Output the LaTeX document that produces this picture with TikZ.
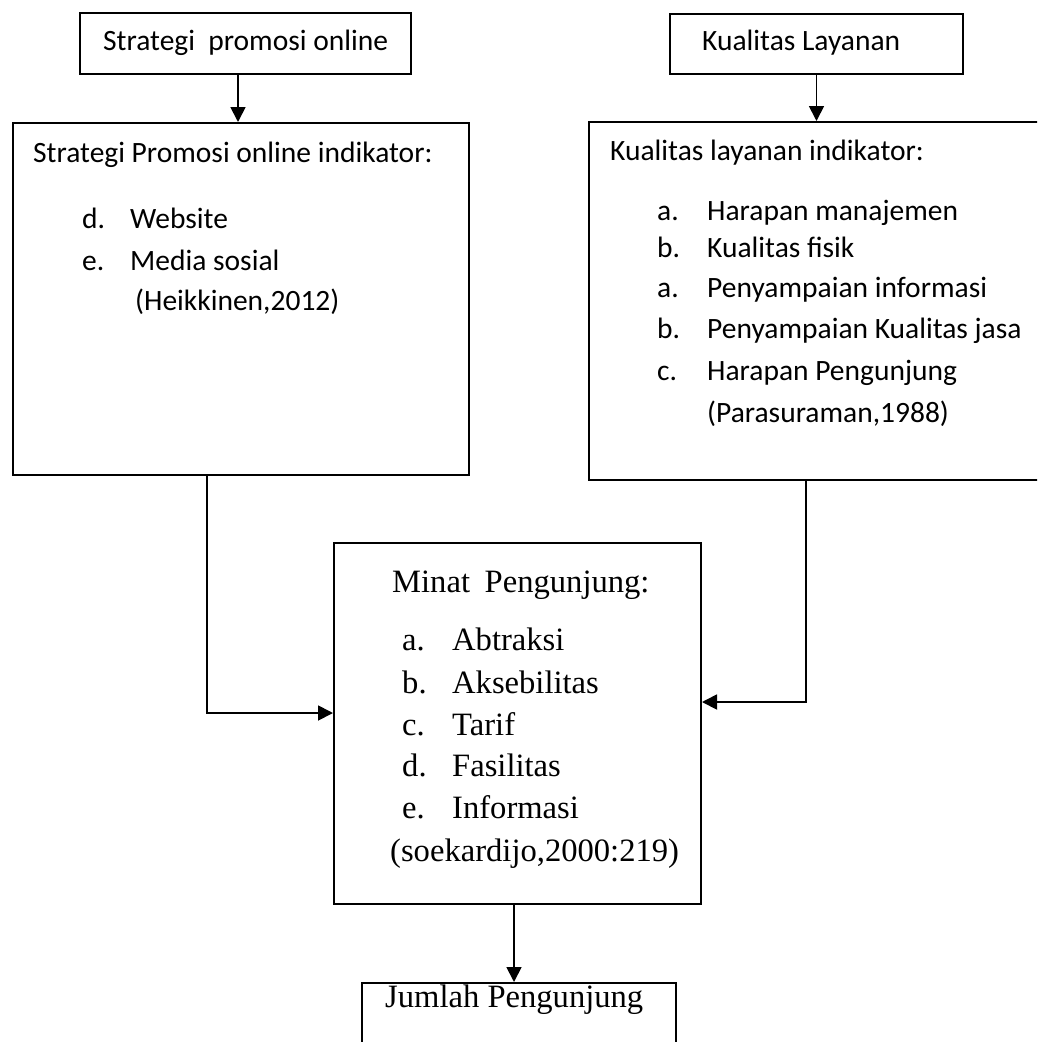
\documentclass[tikz,border=0pt]{standalone}
\usepackage{fontspec}
\setmainfont{Liberation Serif}
\newfontfamily\calib{Carlito}
\usetikzlibrary{arrows.meta}
\begin{document}
\begin{tikzpicture}[x=1pt,y=1pt,
  box/.style={draw,line width=2pt,anchor=north west,inner sep=0pt},
  arr/.style={line width=1.8pt,-{Triangle[length=15pt,width=15pt]}},
  ct/.style={font=\calib\fontsize{29.5}{35}\selectfont,anchor=base west,inner sep=0pt},
  tt/.style={font=\fontsize{32.6}{39}\selectfont,anchor=base west,inner sep=0pt}]
\useasboundingbox (0,0) rectangle (1037,-1042);
\clip (0,0) rectangle (1037,-1042);
% boxes
\node[box,minimum width=331pt,minimum height=61pt] (tl) at (79,-12) {};
\node[box,minimum width=293pt,minimum height=60pt] (tr) at (669,-13) {};
\node[box,minimum width=456pt,minimum height=352pt] (lb) at (12,-122) {};
\node[box,minimum width=462pt,minimum height=358pt] (rb) at (588,-121) {};
\node[box,minimum width=367pt,minimum height=361pt] (mb) at (333,-542) {};
\node[box,minimum width=314pt,minimum height=78pt] (jb) at (361,-982) {};
% connectors
\coordinate (c1) at (238,0);
\draw[arr] (tl.south -| c1) -- (lb.north -| c1);
\draw[arr] (tr.south) -- (tr.south |- rb.north);
\coordinate (c2) at (207,-713);
\draw[arr] (lb.south -| c2) -- (c2) -- (c2 -| mb.west);
\coordinate (c3) at (806,-702);
\draw[arr] (rb.south -| c3) -- (c3) -- (c3 -| mb.east);
\coordinate (c4) at (514,0);
\draw[arr] (mb.south -| c4) -- (jb.north -| c4);
% top texts
\node[ct] (t1) at (103,-50) {Strategi\hspace{0.45em}promosi online};
\node[ct] (t2) at (702,-50) {Kualitas Layanan};
% left box texts
\node[ct] (l0) at (33,-162) {Strategi Promosi online indikator:};
\node[ct] (l1a) at (82,-228) {d.};
\node[ct] (l1b) at (130,-228) {Website};
\node[ct] (l2a) at (82,-270) {e.};
\node[ct] (l2b) at (130,-270) {Media sosial};
\node[ct] (l3) at (135,-310) {(Heikkinen,2012)};
% right box texts
\node[ct] (r0) at (610,-160) {Kualitas layanan indikator:};
\node[ct] (r1a) at (657,-220) {a.};
\node[ct] (r1b) at (707,-220) {Harapan manajemen};
\node[ct] (r2a) at (657,-257) {b.};
\node[ct] (r2b) at (707,-257) {Kualitas fisik};
\node[ct] (r3a) at (657,-297) {a.};
\node[ct] (r3b) at (707,-297) {Penyampaian informasi};
\node[ct] (r4a) at (657,-338) {b.};
\node[ct] (r4b) at (707,-338) {Penyampaian Kualitas jasa};
\node[ct] (r5a) at (657,-380) {c.};
\node[ct] (r5b) at (707,-380) {Harapan Pengunjung};
\node[ct] (r6) at (707,-422) {(Parasuraman,1988)};
% middle box texts
\node[tt] (m0) at (392,-592) {Minat\hspace{0.45em}Pengunjung:};
\node[tt] (m1a) at (402,-650) {a.};
\node[tt] (m1b) at (452,-650) {Abtraksi};
\node[tt] (m2a) at (402,-693) {b.};
\node[tt] (m2b) at (452,-693) {Aksebilitas};
\node[tt] (m3a) at (402,-735) {c.};
\node[tt] (m3b) at (452,-735) {Tarif};
\node[tt] (m4a) at (402,-776) {d.};
\node[tt] (m4b) at (452,-776) {Fasilitas};
\node[tt] (m5a) at (402,-818) {e.};
\node[tt] (m5b) at (452,-818) {Informasi};
\node[tt] (m6) at (390,-861) {(soekardijo,2000:219)};
% bottom text
\node[tt] (j0) at (385,-1007) {Jumlah Pengunjung};
\end{tikzpicture}
\end{document}
